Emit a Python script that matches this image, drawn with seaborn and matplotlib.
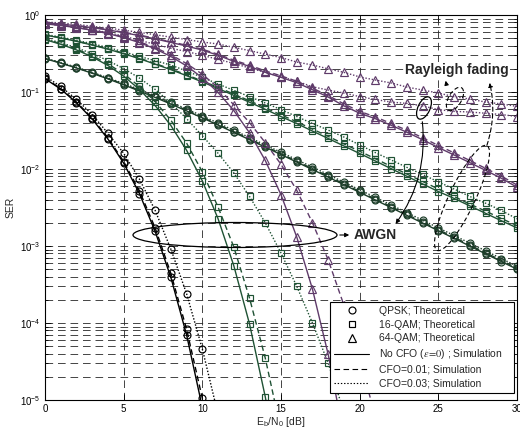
"""SER vs Eb/N0 for QPSK / 16-QAM / 64-QAM with CFO, AWGN and Rayleigh fading."""

import matplotlib

matplotlib.use("Agg")

import matplotlib.pyplot as plt
import matplotlib.transforms as mtransforms
import seaborn as sns
from matplotlib.lines import Line2D
from matplotlib.patches import Ellipse, FancyArrowPatch
from matplotlib.ticker import LogLocator, NullFormatter, MultipleLocator

# ---- data (SER per 1 dB step) ----
snr_full = list(range(31))

# QPSK, AWGN
qpsk_awgn_x = list(range(12))
qpsk_awgn_cfo0 = [0.149, 0.109, 0.0725, 0.0446, 0.0245, 0.0119, 0.0048, 0.00155, 3.9e-4, 7.0e-5, 8.0e-6, 6.0e-7]
qpsk_awgn_cfo1 = [0.151, 0.111, 0.0740, 0.0458, 0.0254, 0.0125, 0.0052, 0.00172, 4.4e-4, 8.3e-5, 1.05e-5, 8.0e-7]
qpsk_awgn_cfo3 = [0.160, 0.118, 0.080, 0.051, 0.029, 0.016, 0.0074, 0.0029, 9.1e-4, 2.4e-4, 4.6e-5, 6.5e-6]

# QPSK, Rayleigh
qpsk_ray_cfo0 = [0.271, 0.237, 0.205, 0.175, 0.148, 0.124, 0.103, 0.085, 0.0697, 0.0568, 0.0461,
                 0.0372, 0.0299, 0.0240, 0.0192, 0.0154, 0.0123, 0.00983, 0.00785, 0.00625, 0.00497,
                 0.00396, 0.00315, 0.0025, 0.00199, 0.00158, 0.00126, 0.000998, 0.000792, 0.000629, 0.0005]
qpsk_ray_cfo1 = [0.273, 0.239, 0.207, 0.177, 0.150, 0.126, 0.105, 0.0866, 0.0711, 0.0580, 0.0471,
                 0.0380, 0.0306, 0.0246, 0.0197, 0.0158, 0.0126, 0.0101, 0.00806, 0.00642, 0.00511,
                 0.00407, 0.00324, 0.00258, 0.00205, 0.00163, 0.0013, 0.00103, 0.000818, 0.00065, 0.000517]
qpsk_ray_cfo3 = [0.276, 0.242, 0.210, 0.180, 0.153, 0.129, 0.108, 0.0893, 0.0735, 0.0601, 0.0489,
                 0.0395, 0.0318, 0.0256, 0.0205, 0.0165, 0.0132, 0.0106, 0.00845, 0.00674, 0.00537,
                 0.00428, 0.00341, 0.00272, 0.00216, 0.00172, 0.00137, 0.00109, 0.000866, 0.000688, 0.000547]

# 16-QAM, AWGN
qam16_awgn_x0 = list(range(16))
qam16_awgn_cfo0 = [0.479, 0.417, 0.352, 0.286, 0.221, 0.161, 0.108, 0.0667, 0.0367, 0.0175, 0.00701,
                   0.00226, 5.55e-4, 9.7e-5, 1.1e-5, 8.0e-7]
qam16_awgn_x1 = list(range(16))
qam16_awgn_cfo1 = [0.486, 0.425, 0.361, 0.296, 0.232, 0.172, 0.118, 0.0750, 0.0430, 0.0217, 0.0092,
                   0.0032, 9.7e-4, 2.1e-4, 3.5e-5, 4.0e-6]
qam16_awgn_x3 = list(range(20))
qam16_awgn_cfo3 = [0.495, 0.437, 0.376, 0.315, 0.256, 0.201, 0.152, 0.108, 0.072, 0.045, 0.027,
                   0.016, 0.0089, 0.0044, 0.0020, 8.1e-4, 3.0e-4, 1.0e-4, 3.0e-5, 7.0e-6]

# 16-QAM, Rayleigh
qam16_ray_cfo0 = [0.549, 0.503, 0.455, 0.407, 0.360, 0.314, 0.271, 0.230, 0.195, 0.163, 0.135,
                  0.111, 0.0905, 0.0737, 0.0596, 0.048, 0.0389, 0.0311, 0.0249, 0.0199, 0.0159,
                  0.0127, 0.0101, 0.00805, 0.0064, 0.0051, 0.00415, 0.00332, 0.00266, 0.00213, 0.00172]
qam16_ray_cfo1 = [0.552, 0.507, 0.459, 0.411, 0.364, 0.318, 0.275, 0.234, 0.199, 0.167, 0.139,
                  0.115, 0.0940, 0.0768, 0.0624, 0.0505, 0.0410, 0.0330, 0.0265, 0.0212, 0.0170,
                  0.0136, 0.0108, 0.0086, 0.0069, 0.0055, 0.0044, 0.0035, 0.00284, 0.00228, 0.00184]
qam16_ray_cfo3 = [0.560, 0.516, 0.470, 0.424, 0.378, 0.333, 0.290, 0.255, 0.224, 0.187, 0.155,
                  0.127, 0.105, 0.087, 0.072, 0.059, 0.048, 0.039, 0.032, 0.026, 0.0205,
                  0.0163, 0.0131, 0.0105, 0.0085, 0.0068, 0.0055, 0.0044, 0.0036, 0.0029, 0.00225]

# 64-QAM, AWGN
qam64_awgn_x0 = list(range(20))
qam64_awgn_cfo0 = [0.769, 0.730, 0.685, 0.633, 0.574, 0.509, 0.438, 0.364, 0.289, 0.218, 0.153,
                   0.0987, 0.0575, 0.0295, 0.0129, 0.00463, 0.00131, 2.75e-4, 3.9e-5, 3.3e-6]
qam64_awgn_x1 = list(range(22))
qam64_awgn_cfo1 = [0.772, 0.734, 0.690, 0.639, 0.582, 0.518, 0.449, 0.377, 0.304, 0.234, 0.170,
                   0.114, 0.068, 0.040, 0.022, 0.0115, 0.0053, 0.0020, 6.6e-4, 1.7e-4, 3.5e-5, 6.0e-6]
qam64_awgn_cfo3 = [0.775, 0.738, 0.695, 0.645, 0.590, 0.530, 0.470, 0.415, 0.370, 0.335, 0.300,
                   0.265, 0.235, 0.205, 0.180, 0.158, 0.138, 0.117, 0.106, 0.097, 0.087,
                   0.080, 0.074, 0.071, 0.066, 0.059, 0.056, 0.055, 0.053, 0.051, 0.048]

# 64-QAM, Rayleigh
qam64_ray_cfo0 = [0.795, 0.760, 0.725, 0.685, 0.640, 0.590, 0.540, 0.490, 0.440, 0.395, 0.350,
                  0.300, 0.250, 0.215, 0.180, 0.155, 0.132, 0.107, 0.086, 0.066, 0.053,
                  0.045, 0.037, 0.030, 0.024, 0.019, 0.0152, 0.0121, 0.0096, 0.0076, 0.0058]
qam64_ray_cfo1 = [0.797, 0.763, 0.729, 0.690, 0.646, 0.597, 0.548, 0.498, 0.449, 0.404, 0.359,
                  0.309, 0.259, 0.223, 0.188, 0.162, 0.138, 0.112, 0.090, 0.070, 0.056,
                  0.0475, 0.039, 0.0318, 0.0255, 0.0202, 0.0162, 0.0129, 0.0102, 0.0081, 0.0062]
qam64_ray_cfo3 = [0.810, 0.790, 0.755, 0.715, 0.675, 0.635, 0.595, 0.555, 0.515, 0.480, 0.446,
                  0.420, 0.380, 0.345, 0.310, 0.280, 0.245, 0.224, 0.200, 0.180, 0.157,
                  0.143, 0.131, 0.116, 0.106, 0.097, 0.087, 0.081, 0.074, 0.070, 0.065]

x_ticks = [0, 5, 10, 15, 20, 25, 30]
legend_labels = [
    "QPSK; Theoretical",
    "16-QAM; Theoretical",
    "64-QAM; Theoretical",
    r"No CFO ($\varepsilon\!=\!0$) ; Simulation",
    "CFO=0.01; Simulation",
    "CFO=0.03; Simulation",
]

BLACK = "#000000"
DKGREEN = "#1c3d29"
GREEN = "#1f5234"
PURPLE = "#5f3b6a"

SOLID = "-"
DASHED = (0, (4.0, 2.5))
DOTTED = (0, (1.0, 1.3))

W, H = 520, 428


def draw_curve(ax, x, y, color, ls, marker, ms):
    sns.lineplot(
        x=x, y=y, ax=ax, color=color, linestyle=ls, linewidth=1.0,
        marker=marker, markersize=ms, markerfacecolor="none",
        markeredgecolor=color, markeredgewidth=0.85,
        estimator=None, sort=False,
    )


def main():
    sns.set_theme(style="ticks")
    plt.rcParams.update({
        "font.family": ["Liberation Sans", "DejaVu Sans"],
        "font.size": 7,
        "mathtext.fontset": "stix",
        "lines.scale_dashes": False,
        "axes.linewidth": 0.8,
        "axes.edgecolor": "black",
    })

    fig = plt.figure(figsize=(W / 100, H / 100), dpi=100)
    ax = fig.add_axes([45 / W, 28 / H, 472 / W, 385 / H])

    curves = [
        (qpsk_awgn_x, qpsk_awgn_cfo0, BLACK, SOLID, "o", 5),
        (qpsk_awgn_x, qpsk_awgn_cfo1, BLACK, DASHED, "o", 5),
        (qpsk_awgn_x, qpsk_awgn_cfo3, BLACK, DOTTED, "o", 5),
        (snr_full, qpsk_ray_cfo0, DKGREEN, SOLID, "o", 5),
        (snr_full, qpsk_ray_cfo1, DKGREEN, DASHED, "o", 5),
        (snr_full, qpsk_ray_cfo3, DKGREEN, DOTTED, "o", 5),
        (qam16_awgn_x0, qam16_awgn_cfo0, GREEN, SOLID, "s", 4.8),
        (qam16_awgn_x1, qam16_awgn_cfo1, GREEN, DASHED, "s", 4.8),
        (qam16_awgn_x3, qam16_awgn_cfo3, GREEN, DOTTED, "s", 4.8),
        (snr_full, qam16_ray_cfo0, GREEN, SOLID, "s", 4.8),
        (snr_full, qam16_ray_cfo1, GREEN, DASHED, "s", 4.8),
        (snr_full, qam16_ray_cfo3, GREEN, DOTTED, "s", 4.8),
        (qam64_awgn_x0, qam64_awgn_cfo0, PURPLE, SOLID, "^", 5.5),
        (qam64_awgn_x1, qam64_awgn_cfo1, PURPLE, DASHED, "^", 5.5),
        (snr_full, qam64_awgn_cfo3, PURPLE, DOTTED, "^", 5.5),
        (snr_full, qam64_ray_cfo0, PURPLE, SOLID, "^", 5.5),
        (snr_full, qam64_ray_cfo1, PURPLE, DASHED, "^", 5.5),
        (snr_full, qam64_ray_cfo3, PURPLE, DOTTED, "^", 5.5),
    ]
    for x, y, color, ls, marker, ms in curves:
        draw_curve(ax, x, y, color, ls, marker, ms)

    ax.set_yscale("log")
    ax.set_xlim(0, 30)
    ax.set_ylim(1e-5, 1)
    ax.set_xticks(x_ticks)
    ax.xaxis.set_minor_locator(MultipleLocator(100))
    ax.yaxis.set_major_locator(LogLocator(base=10, numticks=10))
    ax.yaxis.set_minor_locator(LogLocator(base=10, subs=range(2, 10), numticks=10))
    ax.yaxis.set_minor_formatter(NullFormatter())
    ax.tick_params(which="both", direction="in", top=True, right=True, width=0.6,
                   labelsize=7, pad=3, colors="black")
    ax.tick_params(which="major", length=4)
    ax.tick_params(which="minor", length=2)

    grid_kw = dict(color="0.15", linestyle=(0, (5.5, 3.5)), linewidth=0.6)
    ax.grid(True, which="major", axis="x", **grid_kw)
    ax.grid(True, which="both", axis="y", **grid_kw)
    ax.grid(False, which="minor", axis="x")
    ax.set_axisbelow(True)
    for spine in ax.spines.values():
        spine.set_visible(True)
        spine.set_color("black")

    ax.set_xlabel(r"E$_\mathregular{b}$/N$_\mathregular{0}$ [dB]", fontsize=7.5, labelpad=0.5)
    ax.set_ylabel("SER", fontsize=7.5, labelpad=3)

    handles = [
        Line2D([], [], color="black", linestyle="none", marker="o", markersize=5,
               markerfacecolor="none", markeredgewidth=0.85),
        Line2D([], [], color="black", linestyle="none", marker="s", markersize=4.8,
               markerfacecolor="none", markeredgewidth=0.85),
        Line2D([], [], color="black", linestyle="none", marker="^", markersize=5.5,
               markerfacecolor="none", markeredgewidth=0.85),
        Line2D([], [], color="black", linestyle=SOLID, linewidth=0.8),
        Line2D([], [], color="black", linestyle=DASHED, linewidth=0.8),
        Line2D([], [], color="black", linestyle=DOTTED, linewidth=0.8),
    ]
    leg = ax.legend(handles, legend_labels, loc="lower left",
                    bbox_to_anchor=(0.604, 0.018, 0.39, 0.247), mode="expand",
                    fontsize=7.5, frameon=True, fancybox=False, framealpha=1,
                    edgecolor="black", handlelength=3.3, handletextpad=1.0,
                    labelspacing=0.36, borderpad=0.42, borderaxespad=0)
    leg.get_frame().set_linewidth(0.8)
    leg.set_zorder(5)

    # annotation overlay in image pixel coordinates (origin top-left)
    img = mtransforms.Affine2D().scale(1 / W, -1 / H).translate(0, 1) + fig.transFigure
    ann = dict(transform=img, clip_on=False, zorder=4)

    ax.add_patch(Ellipse((235, 235), 204, 25, fill=False, edgecolor="black", linewidth=0.9, **ann))
    ax.add_patch(Ellipse((424, 108), 12, 24, angle=25, fill=False, edgecolor="black",
                         linewidth=0.9, **ann))
    ax.add_patch(Ellipse((455, 99), 13, 26, angle=30, fill=False, edgecolor="black",
                         linewidth=0.8, linestyle=(0, (3, 2)), **ann))
    ax.add_patch(Ellipse((462, 198), 116, 26, angle=-64.6, fill=False, edgecolor="black",
                         linewidth=0.8, linestyle=(0, (3, 2)), **ann))

    arrows = [
        ((337, 235), (352, 235), "arc3,rad=0", "-"),
        ((422, 119), (394, 226), "arc3,rad=-0.2", "-"),
        ((447, 87), (445, 78), "arc3,rad=0", "-"),
        ((486, 148), (489, 80), "arc3,rad=0.15", (0, (3, 2))),
    ]
    for start, end, conn, ls in arrows:
        ax.add_patch(FancyArrowPatch(start, end, connectionstyle=conn, arrowstyle="-|>",
                                     mutation_scale=6, linewidth=0.8, linestyle=ls,
                                     color="black", **ann))

    ax.text(354, 235, "AWGN", fontsize=10, fontweight="bold", ha="left", va="center",
            bbox=dict(facecolor="white", edgecolor="none", pad=0.5), **ann)
    ax.text(457, 70, "Rayleigh fading", fontsize=10, fontweight="bold", ha="center",
            va="center", bbox=dict(facecolor="white", edgecolor="none", pad=0.5), **ann)

    fig.savefig("out.png", dpi=100)
    plt.close(fig)


if __name__ == "__main__":
    main()
